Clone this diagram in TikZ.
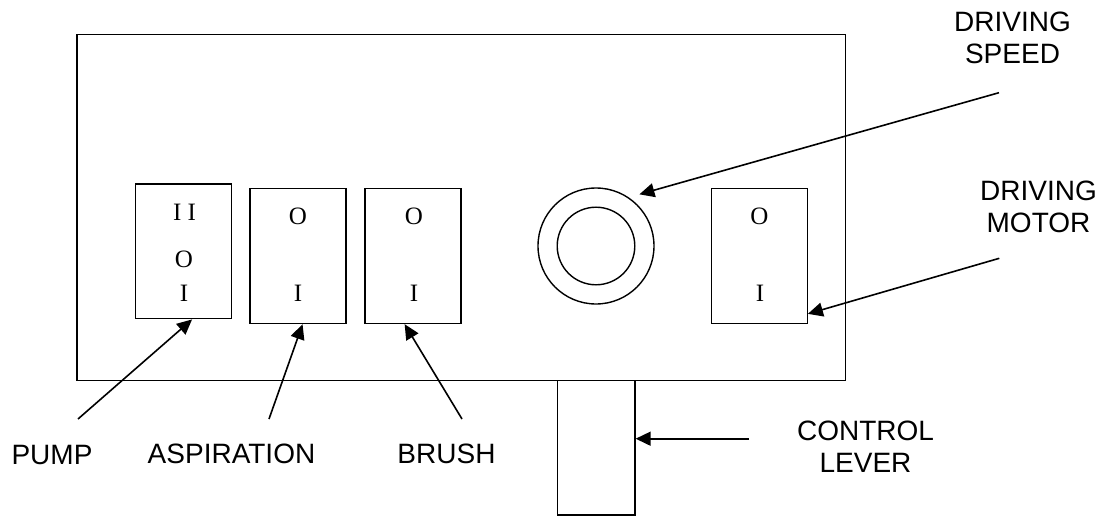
\documentclass[tikz,border=0pt]{standalone}
\usepackage{fontspec}
\setmainfont{Liberation Serif}
\newfontfamily\arialf{Liberation Sans}
\usetikzlibrary{arrows.meta}
\tikzset{
  frame/.style={draw, line width=1.4pt, inner sep=0pt},
  switchbox/.style={draw, line width=1.4pt, inner sep=0pt, minimum width=96pt, minimum height=135pt},
  symb/.style={font=\fontsize{25}{25}\selectfont, anchor=base, inner sep=0pt},
  lab/.style={font=\arialf\fontsize{28}{32.5}\selectfont, align=center, anchor=base, inner sep=0pt},
  arr/.style={-{Triangle[length=15pt,width=14pt]}, line width=1.6pt}
}
\begin{document}
\begin{tikzpicture}[x=1pt,y=-1pt]
\useasboundingbox (0,0) rectangle (1109,516);
% main panel
\node[frame, minimum width=768.7pt, minimum height=346pt] (panel) at (461.4,207.7) {};
% lever
\node[frame, minimum width=77.3pt, minimum height=134.3pt] (lever) at (596.3,447.9) {};
% switches
\node[switchbox, minimum height=134.7pt] (pump) at (183.7,251.4) {};
\node[switchbox] (asp) at (297.8,256) {};
\node[switchbox] (brush) at (413,256) {};
\node[switchbox] (motor) at (759.2,255.8) {};
% knob
\node[draw, line width=1.4pt, circle, minimum size=116pt, inner sep=0pt] (knob) at (596,246) {};
\node[draw, line width=1.4pt, circle, minimum size=77.6pt, inner sep=0pt] (knobin) at (596,246) {};
% switch symbols
\node[symb] (p1) at (184.5,220) {I I};
\node[symb] (p2) at (184,267.5) {O};
\node[symb] (p3) at (184,301) {I};
\node[symb] (a1) at (298,225) {O};
\node[symb] (a2) at (298,301) {I};
\node[symb] (b1) at (414,225) {O};
\node[symb] (b2) at (414,301) {I};
\node[symb] (m1) at (759.5,225) {O};
\node[symb] (m2) at (760,301) {I};
% labels (base = baseline of last line)
\node[lab] (lpump) at (52,464) {PUMP};
\node[lab] (lasp) at (231.5,463) {ASPIRATION};
\node[lab] (lbrush) at (446.5,463) {BRUSH};
\node[lab] (llever) at (865.5,472.7) {CONTROL\\LEVER};
\node[lab] (lspeed) at (1012.5,64) {DRIVING\\SPEED};
\node[lab] (lmotor) at (1038.5,232.7) {DRIVING\\MOTOR};
% arrow starts
\coordinate (pumpS) at (78,419);
\coordinate (aspS) at (269,419);
\coordinate (brushS) at (462,419);
\coordinate (speedS) at (999,92.7);
\coordinate (motorS) at (999.3,258.3);
\coordinate (leverS) at (749,438.7);
% arrows
\draw[arr] (pumpS) -- (pump.-83);
\draw[arr] (aspS) -- (asp.-86);
\draw[arr] (brushS) -- (brush.-97);
\draw[arr, shorten >=11pt] (speedS) -- (knob.56.6);
\draw[arr] (motorS) -- (motor.-50);
\draw[arr] (leverS) -- (leverS -| lever.east);
\end{tikzpicture}
\end{document}
